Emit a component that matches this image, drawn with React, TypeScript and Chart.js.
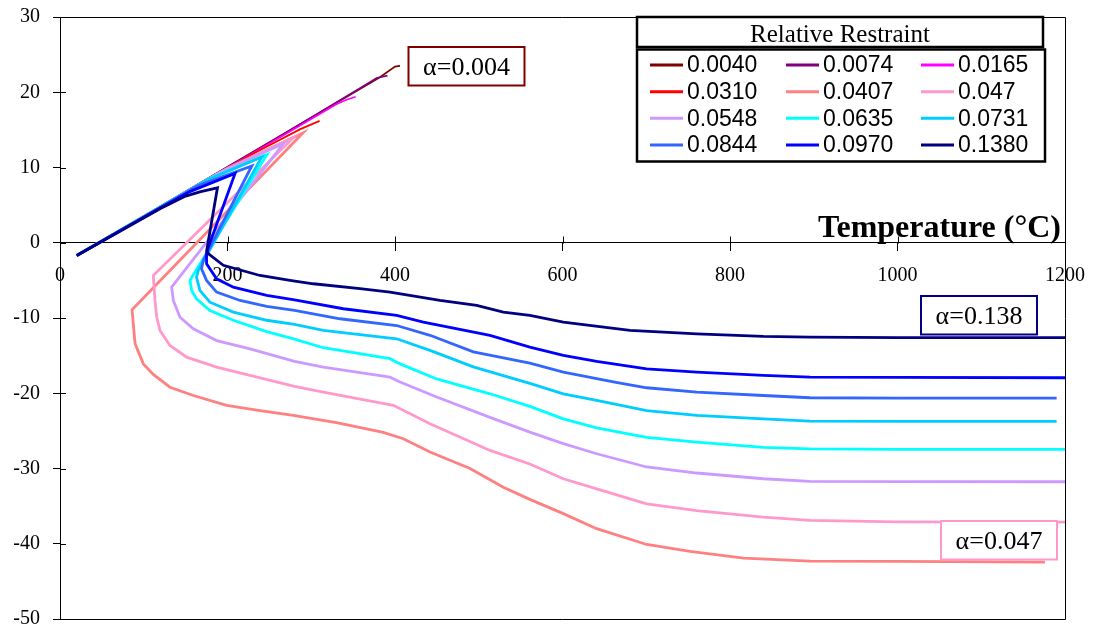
import React, { useEffect, useRef } from 'react';
import { Chart, registerables } from 'chart.js';

Chart.register(...registerables);

type Pt = [number, number];

// Relative restraint levels and their line colours
const restraintLabels = ['0.0040', '0.0074', '0.0165', '0.0310', '0.0407', '0.047', '0.0548', '0.0635', '0.0731', '0.0844', '0.0970', '0.1380'];
const seriesColors = ['#800000', '#800080', '#FF00FF', '#FF0000', '#FF8080', '#FF99CC', '#CC99FF', '#00FFFF', '#00CCFF', '#3366FF', '#0000FF', '#000080'];

// Axis ticks: temperature (°C) and the vertical quantity
const tempTicks = [0, 200, 400, 600, 800, 1000, 1200];
const valueTicks = [-50, -40, -30, -20, -10, 0, 10, 20, 30];

// Curves: [temperature, value]
const r0040: Pt[] = [[20, -1.7], [120, 4.85], [250, 13.35], [382, 22.0], [400, 23.4], [406, 23.5]];
const r0074: Pt[] = [[20, -1.7], [120, 4.85], [250, 13.3], [365, 21.0], [378, 21.9], [391, 22.2]];
const r0165: Pt[] = [[20, -1.7], [120, 4.8], [250, 13.2], [330, 18.4], [342, 19.0], [353, 19.4]];
const r0310: Pt[] = [[20, -1.7], [120, 4.8], [230, 11.8], [287, 15.1], [310, 16.2]];
const r0407: Pt[] = [
  [20, -1.7], [120, 4.75], [200, 9.9], [290, 14.6],
  [86, -8.9], [89.6, -13.4], [99.5, -16.1], [111.4, -17.5], [131.3, -19.2], [159.2, -20.3], [199, -21.6],
  [238.8, -22.3], [278.6, -22.95], [330, -23.9], [386, -25.2], [410, -26.05], [441.8, -27.8], [489.6, -30.0],
  [529.3, -32.5], [561, -34.1], [601, -36.0], [640.8, -38.0], [700.5, -40.1], [752.2, -41.0], [816, -41.9],
  [895.5, -42.3], [1000, -42.35], [1176, -42.45],
];
const r0470: Pt[] = [
  [20, -1.7], [120, 4.75], [200, 9.8], [279, 14.0],
  [111.4, -4.35], [113.4, -7.67], [115.5, -9.9], [119.4, -11.65], [131.3, -13.65], [151.2, -15.2], [187, -16.53],
  [226.9, -17.63], [280, -19.1], [314.4, -19.85], [398, -21.6], [441.8, -24.05], [513.4, -27.6], [561, -29.4],
  [601, -31.36], [640.8, -32.7], [700.5, -34.7], [760.3, -35.6], [839.8, -36.46], [895.5, -36.9], [1000, -37.1],
  [1200, -37.13],
];
const r0548: Pt[] = [
  [20, -1.7], [120, 4.75], [190, 9.3], [267, 13.2],
  [133.3, -5.9], [135.3, -7.67], [143.3, -9.9], [159.2, -11.43], [187, -13.0], [226.9, -14.1], [280, -15.75],
  [314.4, -16.53], [394, -17.86], [406, -18.5], [449.8, -20.5], [513.4, -23.2], [561, -25.17], [601, -26.7],
  [640.8, -28.04], [700.5, -29.8], [760.3, -30.6], [839.8, -31.36], [895.5, -31.7], [1000, -31.75], [1200, -31.76],
];
const r0635: Pt[] = [
  [20, -1.7], [120, 4.75], [180, 8.6], [247, 11.7],
  [155.2, -5.0], [157.2, -6.34], [163, -7.44], [179, -9.0], [207, -10.3], [246.8, -11.8], [280, -12.8],
  [314.4, -13.95], [394, -15.4], [406, -16.1], [449.8, -18.1], [513.4, -20.07], [561, -21.75], [601, -23.4],
  [640.8, -24.6], [700.5, -25.85], [760.3, -26.5], [839.8, -27.2], [895.5, -27.4], [1000, -27.45], [1200, -27.47],
];
const r0731: Pt[] = [
  [20, -1.7], [120, 4.75], [175, 8.3], [241, 11.4],
  [165, -3.7], [163, -4.57], [167, -6.34], [179, -7.9], [207, -9.22], [246.8, -10.3], [280, -10.85],
  [314.4, -11.65], [402, -12.76], [441.8, -14.3], [493.5, -16.5], [561, -18.7], [601, -20.07], [640.8, -20.96],
  [700.5, -22.3], [760.3, -22.95], [839.8, -23.4], [895.5, -23.7], [1000, -23.75], [1190, -23.75],
];
const r0844: Pt[] = [
  [20, -1.7], [120, 4.7], [165, 7.6], [229, 10.2],
  [171, -2.35], [169, -3.46], [175, -5.0], [187, -6.56], [215, -7.67], [246.8, -8.47], [280, -9.0],
  [334.3, -10.1], [402, -11.0], [441.8, -12.3], [493.5, -14.5], [561, -16.0], [601, -17.2], [660.7, -18.5],
  [700.5, -19.27], [760.3, -19.85], [839.8, -20.3], [895.5, -20.6], [1000, -20.65], [1190, -20.65],
];
const r0970: Pt[] = [
  [20, -1.7], [120, 4.65], [155, 6.8], [209, 9.2],
  [175, -1.25], [175, -2.8], [187, -4.8], [207, -5.9], [246.8, -7.0], [280, -7.6], [338.3, -8.77],
  [402, -9.66], [433.8, -10.55], [513.4, -12.3], [561, -13.87], [601, -14.98], [640.8, -15.77], [700.5, -16.75],
  [760.3, -17.2], [839.8, -17.63], [895.5, -17.86], [1000, -17.9], [1200, -17.94],
];
const r1380: Pt[] = [
  [20, -1.7], [120, 4.55], [150, 6.2], [168, 6.8], [188, 7.3],
  [175.2, -1.0], [177, -1.45], [195, -3.0], [238.8, -4.35], [274.6, -5.0], [302.4, -5.45], [358.2, -6.1],
  [394, -6.56], [453.7, -7.67], [497.5, -8.33], [529.3, -9.22], [561, -9.66], [601, -10.55], [680.6, -11.65],
  [760.3, -12.1], [839.8, -12.45], [895.5, -12.55], [1000, -12.6], [1200, -12.62],
];

const allSeries: Pt[][] = [r0040, r0074, r0165, r0310, r0407, r0470, r0548, r0635, r0731, r0844, r0970, r1380];

const SERIF = "'Times New Roman', 'Liberation Serif', serif";
const SANS = "Arial, 'Liberation Sans', sans-serif";

// Frame, inner tick marks, axis caption, legend table and callout boxes
const decorPlugin = {
  id: 'decor',
  afterDraw(chart: any) {
    const { ctx, chartArea: a, scales } = chart;
    const xs = scales.x;
    const ys = scales.y;
    const y0 = Math.round(ys.getPixelForValue(0)) + 0.5;
    ctx.save();

    // plot frame
    ctx.strokeStyle = '#000';
    ctx.lineWidth = 1;
    ctx.beginPath();
    ctx.moveTo(a.left, Math.round(a.top) + 0.5);
    ctx.lineTo(Math.round(a.right) + 0.5, Math.round(a.top) + 0.5);
    ctx.lineTo(Math.round(a.right) + 0.5, Math.round(a.bottom) + 0.5);
    ctx.lineTo(a.left, Math.round(a.bottom) + 0.5);
    ctx.stroke();

    // inward tick marks
    ctx.beginPath();
    for (const v of valueTicks) {
      const py = Math.round(ys.getPixelForValue(v)) + 0.5;
      ctx.moveTo(a.left, py);
      ctx.lineTo(a.left + 6, py);
    }
    for (const v of tempTicks) {
      const px = Math.round(xs.getPixelForValue(v)) + 0.5;
      ctx.moveTo(px, y0);
      ctx.lineTo(px, y0 - 7);
    }
    ctx.stroke();

    // axis caption
    ctx.fillStyle = '#000';
    ctx.font = `bold 32px ${SERIF}`;
    ctx.textAlign = 'right';
    ctx.textBaseline = 'alphabetic';
    ctx.fillText('Temperature (°C)', a.right - 4, y0 - 7);

    // legend title box
    ctx.lineWidth = 2.5;
    ctx.fillStyle = '#fff';
    ctx.fillRect(637, 17, 406, 30);
    ctx.strokeRect(637, 17, 406, 30);
    ctx.fillStyle = '#000';
    ctx.font = `25px ${SERIF}`;
    ctx.textAlign = 'center';
    ctx.fillText('Relative Restraint', 840, 41.5);

    // legend entries box
    ctx.fillStyle = '#fff';
    ctx.fillRect(637, 49.5, 408, 112);
    ctx.strokeRect(637, 49.5, 408, 112);
    const colLine = [650, 786, 921];
    const rowY = [65, 91.7, 118.3, 145];
    ctx.font = `23px ${SANS}`;
    ctx.textAlign = 'left';
    ctx.textBaseline = 'middle';
    restraintLabels.forEach((label, i) => {
      const cx = colLine[i % 3];
      const cy = rowY[Math.floor(i / 3)];
      ctx.strokeStyle = seriesColors[i];
      ctx.lineWidth = 3;
      ctx.beginPath();
      ctx.moveTo(cx, cy);
      ctx.lineTo(cx + 33, cy);
      ctx.stroke();
      ctx.fillStyle = '#000';
      ctx.fillText(label, cx + 37, cy + 1);
    });

    // callout boxes
    const callouts: [string, string, number, number][] = [
      ['α=0.004', '#800000', 408.5, 47],
      ['α=0.138', '#000080', 921, 296],
      ['α=0.047', '#FF99CC', 941, 521],
    ];
    ctx.font = `26px ${SERIF}`;
    ctx.textAlign = 'center';
    ctx.textBaseline = 'alphabetic';
    for (const [text, color, bx, by] of callouts) {
      ctx.fillStyle = '#fff';
      ctx.fillRect(bx, by, 116, 38.5);
      ctx.strokeStyle = color;
      ctx.lineWidth = 2;
      ctx.strokeRect(bx, by, 116, 38.5);
      ctx.fillStyle = '#000';
      ctx.fillText(text, bx + 58, by + 28);
    }
    ctx.restore();
  },
};

export default function App() {
  const canvasRef = useRef<HTMLCanvasElement | null>(null);

  useEffect(() => {
    document.body.style.margin = '0';
    const canvas = canvasRef.current;
    if (!canvas) return;

    const datasets = allSeries.map((pts, i) => ({
      label: restraintLabels[i],
      data: pts.map(([x, y]) => ({ x, y })),
      borderColor: seriesColors[i],
      backgroundColor: seriesColors[i],
      borderWidth: i < 4 ? 1.7 : 2.8,
      pointRadius: 0,
      showLine: true,
      fill: false,
      tension: 0,
      order: allSeries.length - 1 - i,
    }));

    const tickFont = { family: SERIF, size: 20 };

    const chart = new Chart(canvas, {
      type: 'scatter',
      data: { datasets },
      plugins: [decorPlugin],
      options: {
        animation: false,
        responsive: false,
        events: [],
        layout: { padding: { top: 17, right: 28, bottom: 14, left: 0 } },
        plugins: {
          legend: { display: false },
          tooltip: { enabled: false },
        },
        scales: {
          x: {
            type: 'linear',
            position: { y: 0 } as any,
            min: tempTicks[0],
            max: tempTicks[tempTicks.length - 1],
            afterBuildTicks: (s: any) => {
              s.ticks = tempTicks.map((v) => ({ value: v }));
            },
            afterFit: (s: any) => {
              s.paddingLeft = 0;
              s.paddingRight = 0;
            },
            ticks: {
              font: tickFont, color: '#000', padding: 13, maxRotation: 0, autoSkip: false,
              callback: (v: any) => String(v),
            },
            grid: { drawOnChartArea: false, drawTicks: true, tickLength: 8, color: '#000' },
            border: { display: true, color: '#000', width: 1 },
          },
          y: {
            type: 'linear',
            position: 'left',
            min: valueTicks[0],
            max: valueTicks[valueTicks.length - 1],
            afterBuildTicks: (s: any) => {
              s.ticks = valueTicks.map((v) => ({ value: v }));
            },
            afterFit: (s: any) => {
              s.width = 60;
              s.paddingTop = 0;
              s.paddingBottom = 0;
            },
            ticks: {
              font: tickFont, color: '#000', padding: 13, autoSkip: false,
              callback: (v: any) => String(v),
            },
            grid: { drawOnChartArea: false, drawTicks: true, tickLength: 7, color: '#000' },
            border: { display: true, color: '#000', width: 1 },
          },
        },
      } as any,
    });

    return () => chart.destroy();
  }, []);

  return (
    <div style={{ width: 1093, height: 633, background: '#fff' }}>
      <canvas ref={canvasRef} width={1093} height={633} style={{ display: 'block' }} />
    </div>
  );
}
